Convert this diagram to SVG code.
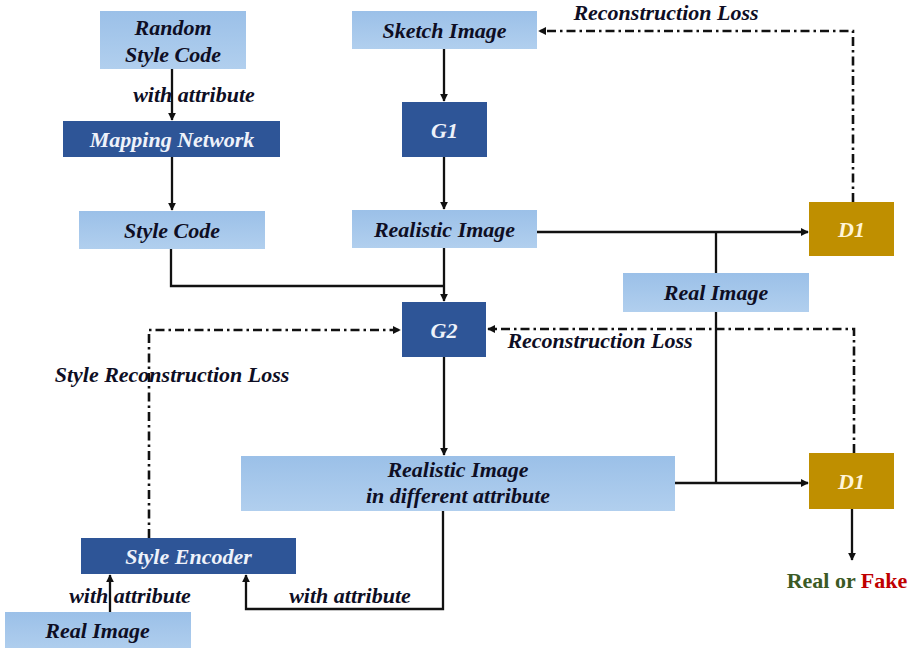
<svg xmlns="http://www.w3.org/2000/svg" width="914" height="648" viewBox="0 0 914 648">
  <defs>
    <linearGradient id="lightFill" x1="0" y1="0" x2="0" y2="1">
      <stop offset="0" stop-color="#9bc0e8"/>
      <stop offset="1" stop-color="#b1cfee"/>
    </linearGradient>
    <marker id="arrow" viewBox="0 0 10 10" refX="9" refY="5" markerWidth="8" markerHeight="8" markerUnits="userSpaceOnUse" orient="auto">
      <path d="M0,0 L10,5 L0,10 Z" fill="#111"/>
    </marker>
    <style>
      .light { fill: url(#lightFill); }
      .dark { fill: #2e5597; }
      .gold { fill: #bf8f00; }
      .t { font-family: "Liberation Serif", "Times New Roman", serif; font-weight: bold; font-style: italic; font-size: 22px; text-anchor: middle; }
      .tDark { fill: #0e0e24; }
      .tLight { fill: #eef2fa; }
      .tGold { fill: #fff4d8; }
      .solid { fill: none; stroke: #111; stroke-width: 2.3; }
      .dashdot { fill: none; stroke: #111; stroke-width: 2.6; stroke-dasharray: 9 4 2.5 4; }
    </style>
  </defs>

  <rect width="914" height="648" fill="#ffffff"/>

  <!-- connectors -->
  <g id="connectors">
    <path class="solid" d="M172,69 V120" marker-end="url(#arrow)"/>
    <path class="solid" d="M172,157 V210" marker-end="url(#arrow)"/>
    <path class="solid" d="M171,249 V286 H444"/>
    <path class="solid" d="M444,49 V101" marker-end="url(#arrow)"/>
    <path class="solid" d="M444,157 V209" marker-end="url(#arrow)"/>
    <path class="solid" d="M444,248 V301" marker-end="url(#arrow)"/>
    <path class="solid" d="M537,232 H808" marker-end="url(#arrow)"/>
    <path class="solid" d="M716,232 V273"/>
    <path class="solid" d="M716,312 V483"/>
    <path class="solid" d="M675,483 H808" marker-end="url(#arrow)"/>
    <path class="solid" d="M444,357 V455" marker-end="url(#arrow)"/>
    <path class="solid" d="M443,511 V609 H246 V575" marker-end="url(#arrow)"/>
    <path class="solid" d="M110,612 V575" marker-end="url(#arrow)"/>
    <path class="solid" d="M852,509 V560" marker-end="url(#arrow)"/>
    <path class="dashdot" d="M853,202 V31 H539" marker-end="url(#arrow)"/>
    <path class="dashdot" d="M854,453 V329 H488" marker-end="url(#arrow)"/>
    <path class="dashdot" d="M149,538 V330 H400" marker-end="url(#arrow)"/>

    <text class="t tDark" x="194" y="102">with attribute</text>
    <text class="t tDark" x="666" y="20">Reconstruction Loss</text>
    <text class="t tDark" x="600" y="348">Reconstruction Loss</text>
    <text class="t tDark" x="172" y="382">Style Reconstruction Loss</text>
    <text class="t tDark" x="130" y="603">with attribute</text>
    <text class="t tDark" x="350" y="603">with attribute</text>
  </g>

  <g id="random-style-code">
    <rect class="light" x="100" y="11" width="146" height="58"/>
    <text class="t tDark" x="173" y="35">Random</text>
    <text class="t tDark" x="173" y="62">Style Code</text>
  </g>

  <g id="mapping-network">
    <rect class="dark" x="63" y="121" width="217" height="36"/>
    <text class="t tLight" x="172" y="147">Mapping Network</text>
  </g>

  <g id="style-code">
    <rect class="light" x="79" y="211" width="186" height="38"/>
    <text class="t tDark" x="172" y="238">Style Code</text>
  </g>

  <g id="sketch-image">
    <rect class="light" x="352" y="11" width="185" height="38"/>
    <text class="t tDark" x="444.5" y="38">Sketch Image</text>
  </g>

  <g id="g1">
    <rect class="dark" x="402" y="102" width="85" height="55"/>
    <text class="t tLight" x="444.5" y="138">G1</text>
  </g>

  <g id="realistic-image">
    <rect class="light" x="352" y="210" width="185" height="38"/>
    <text class="t tDark" x="444.5" y="237">Realistic Image</text>
  </g>

  <g id="d1-top">
    <rect class="gold" x="809" y="202" width="85" height="54"/>
    <text class="t tGold" x="851.5" y="237">D1</text>
  </g>

  <g id="real-image-mid">
    <rect class="light" x="623" y="273" width="186" height="39"/>
    <text class="t tDark" x="716" y="300">Real Image</text>
  </g>

  <g id="g2">
    <rect class="dark" x="402" y="302" width="84" height="55"/>
    <text class="t tLight" x="444" y="338">G2</text>
  </g>

  <g id="realistic-image-attr">
    <rect class="light" x="241" y="456" width="434" height="55"/>
    <text class="t tDark" x="458" y="477">Realistic Image</text>
    <text class="t tDark" x="458" y="503">in different attribute</text>
  </g>

  <g id="d1-bottom">
    <rect class="gold" x="809" y="453" width="85" height="56"/>
    <text class="t tGold" x="851.5" y="489">D1</text>
  </g>

  <g id="real-or-fake">
    <text x="847" y="588" font-family="'Liberation Serif', 'Times New Roman', serif" font-weight="bold" font-size="22" text-anchor="middle"><tspan fill="#3b5a25">Real or </tspan><tspan fill="#c00000">Fake</tspan></text>
  </g>

  <g id="style-encoder">
    <rect class="dark" x="81" y="538" width="215" height="36"/>
    <text class="t tLight" x="188.5" y="564">Style Encoder</text>
  </g>

  <g id="real-image-bottom">
    <rect class="light" x="5" y="612" width="186" height="40"/>
    <text class="t tDark" x="97.5" y="638">Real Image</text>
  </g>
</svg>
